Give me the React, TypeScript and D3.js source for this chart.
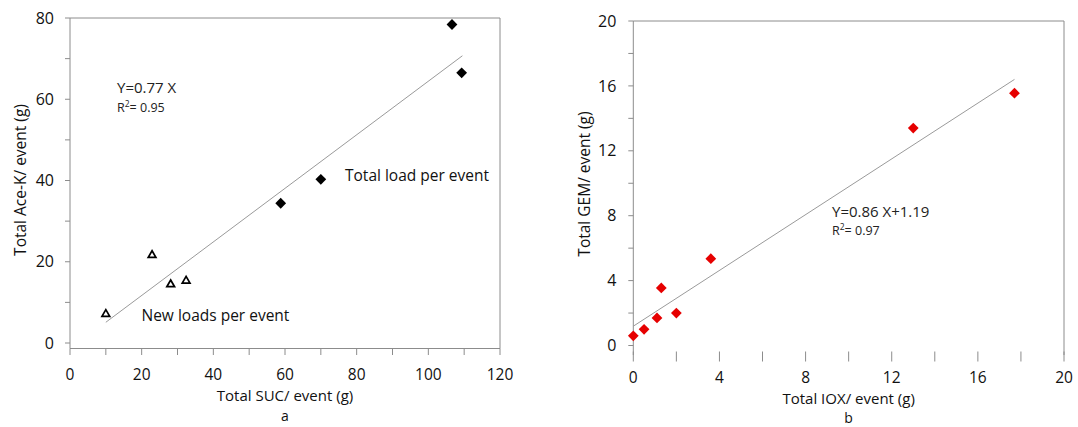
import React from "react";
import * as d3 from "d3";

// ---- Panel a data ----
const aNewX = [10, 22.9, 28.1, 32.4];
const aNewY = [7.3, 21.8, 14.6, 15.5];
const aTotX = [58.8, 70.0, 106.6, 109.3];
const aTotY = [34.4, 40.3, 78.4, 66.5];
const aTrendX = [10, 109.5];
const aTrendY = [5.1, 70.7];
const aXTicks = [0, 20, 40, 60, 80, 100, 120];
const aYTicks = [0, 20, 40, 60, 80];

// ---- Panel b data ----
const bX = [0, 0.5, 1.1, 1.3, 2.0, 3.6, 13.0, 17.7];
const bY = [0.6, 1.0, 1.7, 3.55, 2.0, 5.35, 13.4, 15.55];
const bTrendX = [0, 17.7];
const bTrendY = [1.19, 16.4];
const bXTicks = [0, 4, 8, 12, 16, 20];
const bYTicks = [0, 4, 8, 12, 16, 20];

const FONT = "'Open Sans', sans-serif";
const AXIS = "#8c8c8c";

export default function App() {
  // panel a scales
  const ax = d3.scaleLinear().domain([0, 120]).range([70, 500]);
  const ay = d3.scaleLinear().domain([0, 80]).range([343, 18]);
  // panel b scales
  const bx = d3.scaleLinear().domain([0, 20]).range([633.3, 1064]);
  const by = d3.scaleLinear().domain([0, 20]).range([345.5, 21]);

  const diamond = d3.symbol().type(d3.symbolSquare).size(58)();
  const tri = d3.symbol().type(d3.symbolTriangle).size(26)();
  const line = d3.line();

  const aMinorX = d3.range(0, 121, 10);
  const aMinorY = d3.range(0, 81, 10);
  const bMinorX = d3.range(0, 20.01, 2);
  const bMinorY = d3.range(0, 20.01, 2);

  return (
    <svg width={1078} height={427} style={{ position: "absolute", left: 0, top: 0, background: "#fff" }} fontFamily={FONT}>
      <rect width={1078} height={427} fill="#fff" />
      {/* ===== Panel a ===== */}
      <g>
        <line x1={ax(0)} x2={ax(120)} y1={ay(80)} y2={ay(80)} stroke={AXIS} strokeWidth={1} />
        <line x1={ax(120)} x2={ax(120)} y1={ay(80)} y2={348.5} stroke={AXIS} strokeWidth={1} />
        <line x1={ax(0)} x2={ax(0)} y1={ay(80)} y2={348.5} stroke={AXIS} strokeWidth={1} />
        <line x1={ax(0)} x2={ax(120)} y1={348.5} y2={348.5} stroke={AXIS} strokeWidth={1} />
        {aMinorY.map((v) => (
          <line key={"ay" + v} x1={ax(0) - 5} x2={ax(0)} y1={ay(v)} y2={ay(v)} stroke={AXIS} />
        ))}
        {aMinorX.map((v) => (
          <line key={"ax" + v} x1={ax(v)} x2={ax(v)} y1={348.5} y2={355} stroke={AXIS} />
        ))}
        {aYTicks.map((v) => (
          <text key={"ayl" + v} x={ax(0) - 16} y={ay(v)} dy="0.35em" textAnchor="end" fontSize={16} fill="#111">
            {v}
          </text>
        ))}
        {aXTicks.map((v) => (
          <text key={"axl" + v} x={ax(v)} y={380} textAnchor="middle" fontSize={15.5} fill="#111">
            {v}
          </text>
        ))}
        <text x={(ax(0) + ax(120)) / 2} y={401} textAnchor="middle" fontSize={15} fill="#111">
          Total SUC/ event (g)
        </text>
        <text x={(ax(0) + ax(120)) / 2} y={421} textAnchor="middle" fontSize={14} fill="#111">
          a
        </text>
        <text transform={`translate(26,180) rotate(-90)`} textAnchor="middle" fontSize={15.5} fill="#111">
          Total Ace-K/ event (g)
        </text>
        <path
          d={line(aTrendX.map((x, i) => [ax(x), ay(aTrendY[i])]) as [number, number][]) || ""}
          stroke="#9a9a9a"
          strokeWidth={1}
          fill="none"
        />
        {aNewX.map((x, i) => (
          <path key={"t" + i} d={tri || ""} transform={`translate(${ax(x)},${ay(aNewY[i]) + 0.8})`} fill="#fff" stroke="#000" strokeWidth={1.7} />
        ))}
        {aTotX.map((x, i) => (
          <path key={"d" + i} d={diamond || ""} transform={`translate(${ax(x)},${ay(aTotY[i])}) rotate(45)`} fill="#000" />
        ))}
        <text x={117} y={93} fontSize={15} fill="#222">
          Y=0.77 X
        </text>
        <text x={117} y={112} fontSize={12.5} fill="#222">
          R<tspan dy={-5} fontSize={8.5}>2</tspan>
          <tspan dy={5}>= 0.95</tspan>
        </text>
        <text x={345} y={180.5} fontSize={15.5} fill="#111">
          Total load per event
        </text>
        <text x={141.5} y={321} fontSize={15.5} fill="#111">
          New loads per event
        </text>
      </g>

      {/* ===== Panel b ===== */}
      <g>
        <line x1={bx(0)} x2={bx(20)} y1={by(20)} y2={by(20)} stroke={AXIS} strokeWidth={1} />
        <line x1={bx(20)} x2={bx(20)} y1={by(20)} y2={355} stroke={AXIS} strokeWidth={1} />
        <line x1={bx(0)} x2={bx(0)} y1={by(20)} y2={355} stroke={AXIS} strokeWidth={1} />
        {bMinorY.map((v) => (
          <line key={"by" + v} x1={bx(0) - 5} x2={bx(0)} y1={by(v)} y2={by(v)} stroke={AXIS} />
        ))}
        {bMinorX.map((v) => (
          <line key={"bx" + v} x1={bx(v)} x2={bx(v)} y1={351.5} y2={361.5} stroke={AXIS} />
        ))}
        {bYTicks.map((v) => (
          <text key={"byl" + v} x={bx(0) - 17} y={by(v)} dy="0.35em" textAnchor="end" fontSize={16} fill="#111">
            {v}
          </text>
        ))}
        {bXTicks.map((v) => (
          <text key={"bxl" + v} x={bx(v)} y={382.5} textAnchor="middle" fontSize={15.5} fill="#111">
            {v}
          </text>
        ))}
        <text x={(bx(0) + bx(20)) / 2} y={404} textAnchor="middle" fontSize={15} fill="#111">
          Total IOX/ event (g)
        </text>
        <text x={(bx(0) + bx(20)) / 2} y={423} textAnchor="middle" fontSize={14} fill="#111">
          b
        </text>
        <text transform={`translate(590,184) rotate(-90)`} textAnchor="middle" fontSize={15.5} fill="#111">
          Total GEM/ event (g)
        </text>
        <path
          d={line(bTrendX.map((x, i) => [bx(x), by(bTrendY[i])]) as [number, number][]) || ""}
          stroke="#9a9a9a"
          strokeWidth={1}
          fill="none"
        />
        {bX.map((x, i) => (
          <path key={"r" + i} d={diamond || ""} transform={`translate(${bx(x)},${by(bY[i])}) rotate(45)`} fill="#e60000" />
        ))}
        <text x={832} y={216.7} fontSize={15} fill="#222">
          Y=0.86 X+1.19
        </text>
        <text x={832} y={235} fontSize={12.5} fill="#222">
          R<tspan dy={-5} fontSize={8.5}>2</tspan>
          <tspan dy={5}>= 0.97</tspan>
        </text>
      </g>
    </svg>
  );
}
